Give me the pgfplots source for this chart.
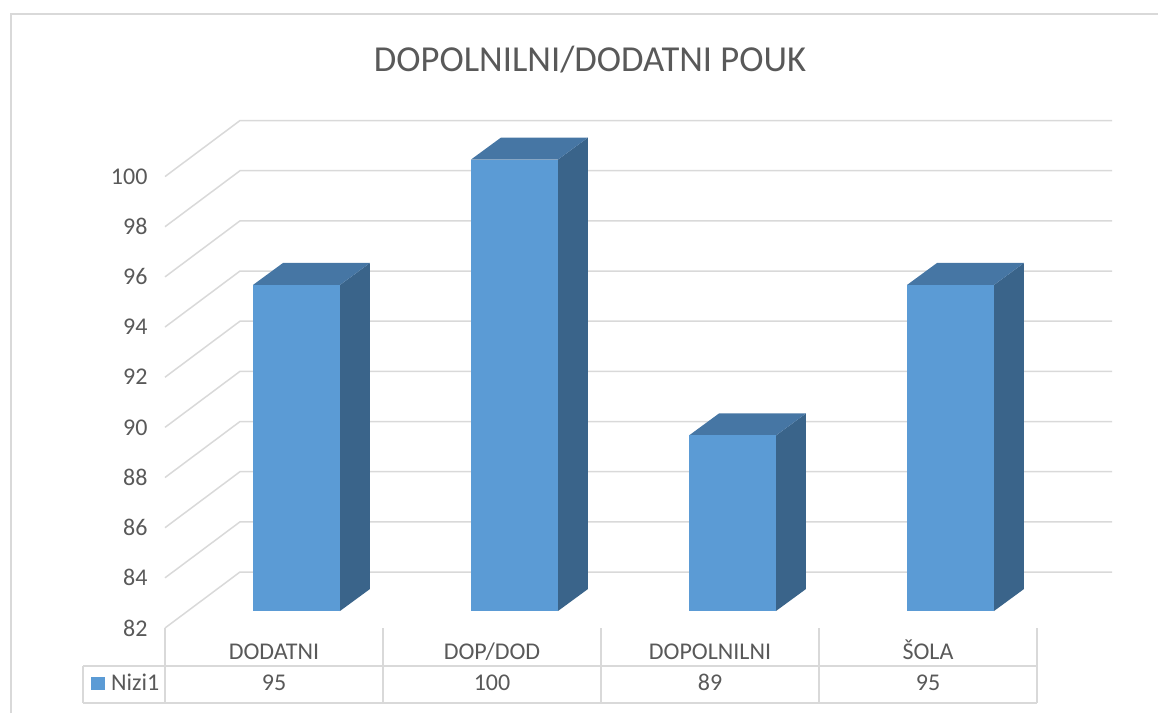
\documentclass[border=0pt]{standalone}
\usepackage{pgfplots}
\pgfplotsset{compat=1.18}
\usepackage{pgfplotstable}
\usepackage{fontspec}
\setmainfont{Carlito}
\definecolor{barfront}{HTML}{5B9BD5}
\definecolor{bartop}{HTML}{4676A4}
\definecolor{barside}{HTML}{3A648A}
\definecolor{gridc}{HTML}{D9D9D9}
\definecolor{txt}{HTML}{595959}

\pgfplotstableread{
idx v
0 95
1 100
2 89
3 95
}\datatable

\begin{document}
\begin{tikzpicture}[x=1pt,y=1pt]
\useasboundingbox (0,0) rectangle (1158,713);
\draw[gridc, line width=2pt] (11,0) -- (11,699) -- (1158,699);
\node[anchor=base, text=txt, font=\fontsize{36.6}{40}\selectfont, inner sep=0pt] at (590,641) {DOPOLNILNI/DODATNI POUK};
\begin{axis}[
  scale only axis, width=872pt, height=451.44pt,
  at={(165pt,85pt)}, anchor=south west,
  xmin=-0.5, xmax=3.5, ymin=82, ymax=100,
  clip=false,
  axis line style={draw=none},
  major tick length=0pt,
  xtick=\empty,
  ytick={82,84,...,100},
  yticklabel style={font=\fontsize{24}{24}\selectfont, text=txt, xshift=-14pt},
  /pgf/number format/assume math mode=true,
]
% back wall and side wall grid
\pgfplotsinvokeforeach{82,84,...,100}{
  \pgfmathsetmacro\gb{#1+2.2329}
  \addplot[gridc, line width=1.5pt] coordinates {(-0.5,#1) (-0.156,\gb) (3.844,\gb)};
}
% 3D bars
\pgfplotsinvokeforeach{0,1,2,3}{
  \pgfplotstablegetelem{#1}{v}\of\datatable
  \pgfmathsetmacro\yt{\pgfplotsretval+0.678}
  \pgfmathsetmacro\ytb{\yt+0.877}
  \pgfmathsetmacro\xl{#1+0.1032-0.1995}
  \pgfmathsetmacro\xr{#1+0.1032+0.1995}
  \pgfmathsetmacro\xlb{\xl+0.1376}
  \pgfmathsetmacro\xrb{\xr+0.1376}
  \addplot[draw=none, fill=barside] coordinates {(\xr,82.678) (\xrb,83.555) (\xrb,\ytb) (\xr,\yt)};
  \addplot[draw=none, fill=bartop] coordinates {(\xl,\yt) (\xr,\yt) (\xrb,\ytb) (\xlb,\ytb)};
  \addplot[draw=none, fill=barfront] coordinates {(\xl,82.678) (\xr,82.678) (\xr,\yt) (\xl,\yt)};
}
% data table
\pgfplotsinvokeforeach{-0.5,0.5,1.5,2.5,3.5}{
  \draw[gridc, line width=1.5pt] (axis cs:#1,82) -- (axis cs:#1,79.01);
}
\draw[gridc, line width=1.5pt] (axis cs:-0.876,80.485) -- (axis cs:3.5,80.485);
\draw[gridc, line width=1.5pt] (axis cs:-0.876,79.01) -- (axis cs:3.5,79.01);
\draw[gridc, line width=1.5pt] (axis cs:-0.876,80.485) -- (axis cs:-0.876,79.01);
\fill[barfront] (axis cs:-0.8394,80.046) rectangle (axis cs:-0.7752,79.528);
\node[anchor=base west, text=txt, font=\fontsize{24}{24}\selectfont, inner sep=0pt] at (axis cs:-0.7477,79.528) {Nizi1};
\node[anchor=base, text=txt, font=\fontsize{24}{24}\selectfont, inner sep=0pt] at (axis cs:0,80.764) {DODATNI};
\node[anchor=base, text=txt, font=\fontsize{24}{24}\selectfont, inner sep=0pt] at (axis cs:1,80.764) {DOP/DOD};
\node[anchor=base, text=txt, font=\fontsize{24}{24}\selectfont, inner sep=0pt] at (axis cs:2,80.764) {DOPOLNILNI};
\node[anchor=base, text=txt, font=\fontsize{24}{24}\selectfont, inner sep=0pt] at (axis cs:3,80.764) {ŠOLA};
\node[anchor=base, text=txt, font=\fontsize{24}{24}\selectfont, inner sep=0pt] at (axis cs:0,79.528) {95};
\node[anchor=base, text=txt, font=\fontsize{24}{24}\selectfont, inner sep=0pt] at (axis cs:1,79.528) {100};
\node[anchor=base, text=txt, font=\fontsize{24}{24}\selectfont, inner sep=0pt] at (axis cs:2,79.528) {89};
\node[anchor=base, text=txt, font=\fontsize{24}{24}\selectfont, inner sep=0pt] at (axis cs:3,79.528) {95};
\end{axis}
\end{tikzpicture}
\end{document}
